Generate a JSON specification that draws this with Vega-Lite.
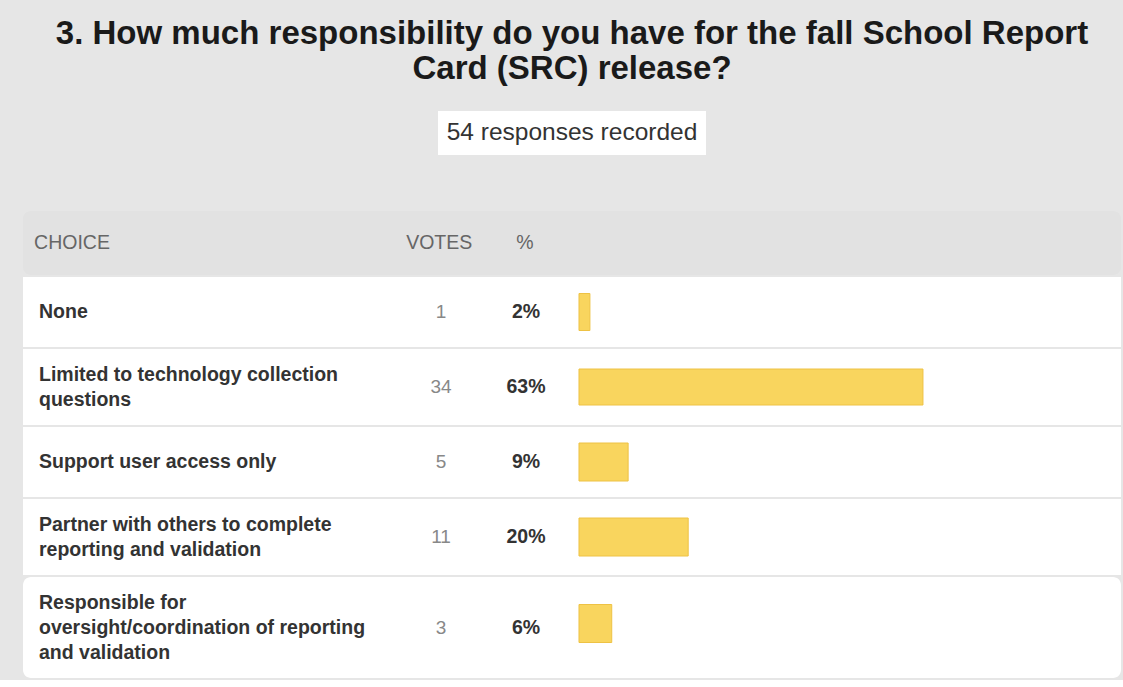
{
  "$schema": "https://vega.github.io/schema/vega-lite/v6.json",
  "background": "#e6e6e6",
  "padding": {"top": 18, "left": 23, "right": 2, "bottom": 2},
  "title": {
    "text": ["3. How much responsibility do you have for the fall School Report", "Card (SRC) release?"],
    "font": "Liberation Sans",
    "fontSize": 33,
    "fontWeight": "bold",
    "color": "#1a1a1a",
    "anchor": "middle",
    "lineHeight": 35,
    "offset": 25
  },
  "config": {
    "font": "Liberation Sans",
    "view": {"stroke": null},
    "concat": {"spacing": 0}
  },
  "datasets": {
    "responses": [
      {"choice": "None", "votes": 1, "pct": 0.02},
      {"choice": "Limited to technology collection\nquestions", "votes": 34, "pct": 0.63},
      {"choice": "Support user access only", "votes": 5, "pct": 0.09},
      {"choice": "Partner with others to complete\nreporting and validation", "votes": 11, "pct": 0.20},
      {"choice": "Responsible for\noversight/coordination of reporting\nand validation", "votes": 3, "pct": 0.06}
    ]
  },
  "center": true,
  "spacing": 56,
  "vconcat": [
    {
      "width": 268,
      "height": 44,
      "view": {"fill": "#ffffff", "stroke": null},
      "data": {"values": [{"label": "54 responses recorded"}]},
      "mark": {"type": "text", "fontSize": 24.5, "color": "#333333", "align": "center", "baseline": "middle"},
      "encoding": {"text": {"field": "label"}}
    },
    {
      "spacing": 2,
      "vconcat": [
        {
          "width": 1098,
          "height": 64,
          "view": {"fill": "#e2e2e2", "stroke": null, "cornerRadius": 8},
          "data": {"values": [{}]},
          "layer": [
            {
              "mark": {"type": "text", "text": "CHOICE", "align": "left", "baseline": "middle", "fontSize": 19.5, "color": "#666666"},
              "encoding": {"x": {"datum": -0.998, "type": "quantitative", "scale": {"domain": [-1.0183, 0.9927], "nice": false, "zero": false}, "axis": null}}
            },
            {
              "mark": {"type": "text", "text": "VOTES", "align": "center", "baseline": "middle", "fontSize": 19.5, "color": "#666666"},
              "encoding": {"x": {"datum": -0.256, "type": "quantitative"}}
            },
            {
              "mark": {"type": "text", "text": "%", "align": "center", "baseline": "middle", "fontSize": 19.5, "color": "#666666"},
              "encoding": {"x": {"datum": -0.099, "type": "quantitative"}}
            }
          ]
        },
        {
          "width": 1098,
          "height": 70,
          "view": {"fill": "#ffffff", "stroke": null, "cornerRadius": 0},
          "data": {"name": "responses"},
          "transform": [{"filter": {"field": "choice", "equal": "None"}}],
          "encoding": {"y": {"field": "choice", "type": "nominal", "axis": null}},
          "layer": [
            {
              "mark": {"type": "bar", "height": 37, "fill": "#f9d55e", "stroke": "#eec244", "strokeWidth": 1},
              "encoding": {
                "x": {"field": "pct", "type": "quantitative", "scale": {"domain": [-1.0183, 0.9927], "nice": false, "zero": false}, "axis": null},
                "x2": {"datum": 0}
              }
            },
            {
              "mark": {"type": "text", "align": "left", "baseline": "middle", "fontSize": 19.5, "fontWeight": "bold", "color": "#333333", "lineBreak": "\n", "lineHeight": 25, "dy": 0},
              "encoding": {"x": {"datum": -0.989, "type": "quantitative"}, "text": {"field": "choice"}}
            },
            {
              "mark": {"type": "text", "align": "center", "baseline": "middle", "fontSize": 19, "color": "#888888"},
              "encoding": {"x": {"datum": -0.2527, "type": "quantitative"}, "text": {"field": "votes"}}
            },
            {
              "mark": {"type": "text", "align": "center", "baseline": "middle", "fontSize": 19.5, "fontWeight": "bold", "color": "#333333"},
              "encoding": {"x": {"datum": -0.0971, "type": "quantitative"}, "text": {"field": "pct", "format": ".0%"}}
            }
          ]
        },
        {
          "width": 1098,
          "height": 76,
          "view": {"fill": "#ffffff", "stroke": null, "cornerRadius": 0},
          "data": {"name": "responses"},
          "transform": [{"filter": {"field": "choice", "equal": "Limited to technology collection\nquestions"}}],
          "encoding": {"y": {"field": "choice", "type": "nominal", "axis": null}},
          "layer": [
            {
              "mark": {"type": "bar", "height": 36, "fill": "#f9d55e", "stroke": "#eec244", "strokeWidth": 1},
              "encoding": {
                "x": {"field": "pct", "type": "quantitative", "scale": {"domain": [-1.0183, 0.9927], "nice": false, "zero": false}, "axis": null},
                "x2": {"datum": 0}
              }
            },
            {
              "mark": {"type": "text", "align": "left", "baseline": "middle", "fontSize": 19.5, "fontWeight": "bold", "color": "#333333", "lineBreak": "\n", "lineHeight": 25, "dy": -12.5},
              "encoding": {"x": {"datum": -0.989, "type": "quantitative"}, "text": {"field": "choice"}}
            },
            {
              "mark": {"type": "text", "align": "center", "baseline": "middle", "fontSize": 19, "color": "#888888"},
              "encoding": {"x": {"datum": -0.2527, "type": "quantitative"}, "text": {"field": "votes"}}
            },
            {
              "mark": {"type": "text", "align": "center", "baseline": "middle", "fontSize": 19.5, "fontWeight": "bold", "color": "#333333"},
              "encoding": {"x": {"datum": -0.0971, "type": "quantitative"}, "text": {"field": "pct", "format": ".0%"}}
            }
          ]
        },
        {
          "width": 1098,
          "height": 70,
          "view": {"fill": "#ffffff", "stroke": null, "cornerRadius": 0},
          "data": {"name": "responses"},
          "transform": [{"filter": {"field": "choice", "equal": "Support user access only"}}],
          "encoding": {"y": {"field": "choice", "type": "nominal", "axis": null}},
          "layer": [
            {
              "mark": {"type": "bar", "height": 38, "fill": "#f9d55e", "stroke": "#eec244", "strokeWidth": 1},
              "encoding": {
                "x": {"field": "pct", "type": "quantitative", "scale": {"domain": [-1.0183, 0.9927], "nice": false, "zero": false}, "axis": null},
                "x2": {"datum": 0}
              }
            },
            {
              "mark": {"type": "text", "align": "left", "baseline": "middle", "fontSize": 19.5, "fontWeight": "bold", "color": "#333333", "lineBreak": "\n", "lineHeight": 25, "dy": 0},
              "encoding": {"x": {"datum": -0.989, "type": "quantitative"}, "text": {"field": "choice"}}
            },
            {
              "mark": {"type": "text", "align": "center", "baseline": "middle", "fontSize": 19, "color": "#888888"},
              "encoding": {"x": {"datum": -0.2527, "type": "quantitative"}, "text": {"field": "votes"}}
            },
            {
              "mark": {"type": "text", "align": "center", "baseline": "middle", "fontSize": 19.5, "fontWeight": "bold", "color": "#333333"},
              "encoding": {"x": {"datum": -0.0971, "type": "quantitative"}, "text": {"field": "pct", "format": ".0%"}}
            }
          ]
        },
        {
          "width": 1098,
          "height": 76,
          "view": {"fill": "#ffffff", "stroke": null, "cornerRadius": 0},
          "data": {"name": "responses"},
          "transform": [{"filter": {"field": "choice", "equal": "Partner with others to complete\nreporting and validation"}}],
          "encoding": {"y": {"field": "choice", "type": "nominal", "axis": null}},
          "layer": [
            {
              "mark": {"type": "bar", "height": 38, "fill": "#f9d55e", "stroke": "#eec244", "strokeWidth": 1},
              "encoding": {
                "x": {"field": "pct", "type": "quantitative", "scale": {"domain": [-1.0183, 0.9927], "nice": false, "zero": false}, "axis": null},
                "x2": {"datum": 0}
              }
            },
            {
              "mark": {"type": "text", "align": "left", "baseline": "middle", "fontSize": 19.5, "fontWeight": "bold", "color": "#333333", "lineBreak": "\n", "lineHeight": 25, "dy": -12.5},
              "encoding": {"x": {"datum": -0.989, "type": "quantitative"}, "text": {"field": "choice"}}
            },
            {
              "mark": {"type": "text", "align": "center", "baseline": "middle", "fontSize": 19, "color": "#888888"},
              "encoding": {"x": {"datum": -0.2527, "type": "quantitative"}, "text": {"field": "votes"}}
            },
            {
              "mark": {"type": "text", "align": "center", "baseline": "middle", "fontSize": 19.5, "fontWeight": "bold", "color": "#333333"},
              "encoding": {"x": {"datum": -0.0971, "type": "quantitative"}, "text": {"field": "pct", "format": ".0%"}}
            }
          ]
        },
        {
          "width": 1098,
          "height": 101,
          "view": {"fill": "#ffffff", "stroke": null, "cornerRadius": 8},
          "data": {"name": "responses"},
          "transform": [{"filter": {"field": "choice", "equal": "Responsible for\noversight/coordination of reporting\nand validation"}}],
          "encoding": {"y": {"field": "choice", "type": "nominal", "axis": null}},
          "layer": [
            {
              "mark": {"type": "bar", "height": 38, "fill": "#f9d55e", "stroke": "#eec244", "strokeWidth": 1, "yOffset": -4},
              "encoding": {
                "x": {"field": "pct", "type": "quantitative", "scale": {"domain": [-1.0183, 0.9927], "nice": false, "zero": false}, "axis": null},
                "x2": {"datum": 0}
              }
            },
            {
              "mark": {"type": "text", "align": "left", "baseline": "middle", "fontSize": 19.5, "fontWeight": "bold", "color": "#333333", "lineBreak": "\n", "lineHeight": 25, "dy": -25},
              "encoding": {"x": {"datum": -0.989, "type": "quantitative"}, "text": {"field": "choice"}}
            },
            {
              "mark": {"type": "text", "align": "center", "baseline": "middle", "fontSize": 19, "color": "#888888"},
              "encoding": {"x": {"datum": -0.2527, "type": "quantitative"}, "text": {"field": "votes"}}
            },
            {
              "mark": {"type": "text", "align": "center", "baseline": "middle", "fontSize": 19.5, "fontWeight": "bold", "color": "#333333"},
              "encoding": {"x": {"datum": -0.0971, "type": "quantitative"}, "text": {"field": "pct", "format": ".0%"}}
            }
          ]
        }
      ]
    }
  ]
}
